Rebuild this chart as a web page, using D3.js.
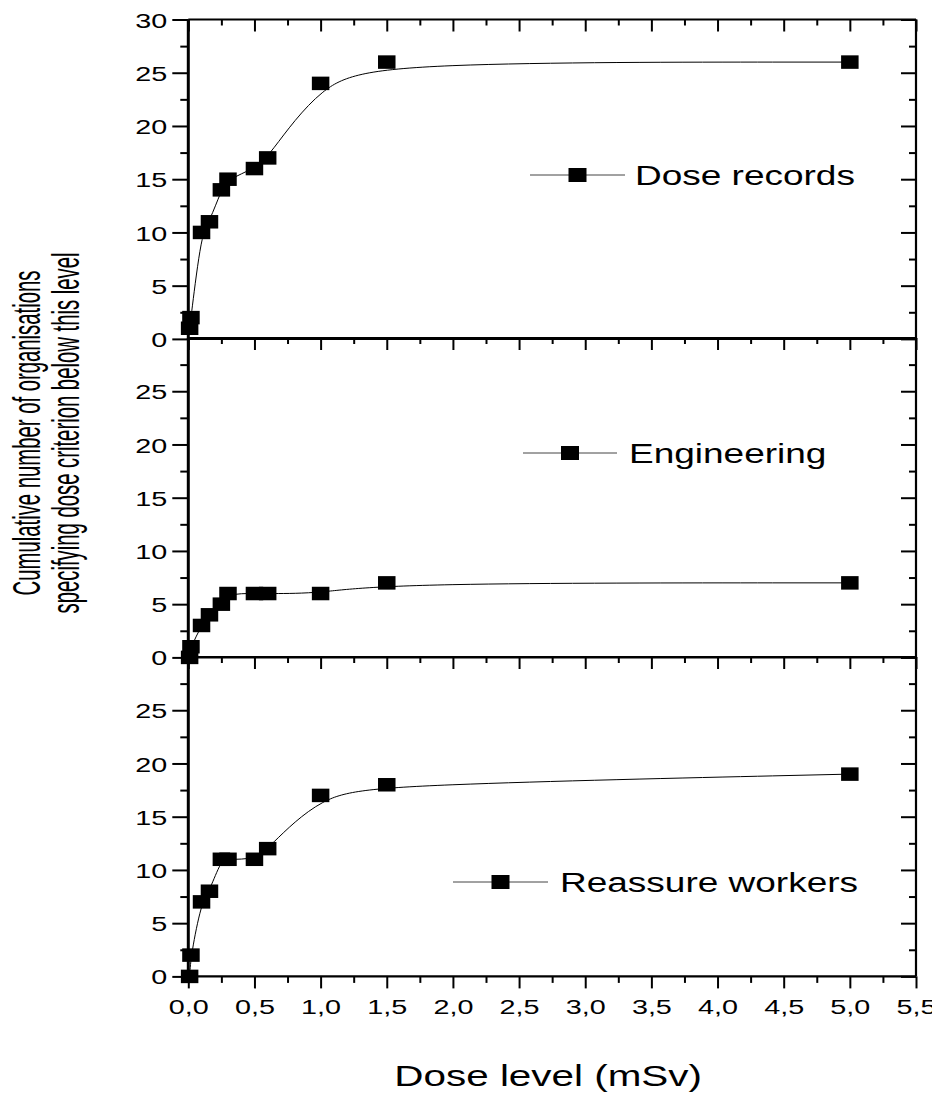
<!DOCTYPE html>
<html>
<head>
<meta charset="utf-8">
<script src="https://cdn.jsdelivr.net/npm/d3@7/dist/d3.min.js"></script>
<style>
  html, body { margin: 0; padding: 0; background: #fff; }
  svg { display: block; }
  text { font-family: "Liberation Sans", Arial, sans-serif; fill: #000; }
</style>
</head>
<body>
<svg id="chart" width="932" height="1096"></svg>
<script>
// Dose levels (mSv) at which cumulative counts were taken
const doseLevels = [0.01, 0.02, 0.1, 0.16, 0.25, 0.3, 0.5, 0.6, 1.0, 1.5, 5.0];

// Cumulative number of organisations per purpose
const doseRecords     = [1, 2, 10, 11, 14, 15, 16, 17, 24, 26, 26];
const engineering     = [0, 1, 3, 4, 5, 6, 6, 6, 6, 7, 7];
const reassureWorkers = [0, 2, 7, 8, 11, 11, 11, 12, 17, 18, 19];

const seriesNames = ["Dose records", "Engineering", "Reassure workers"];

// Axis ticks
const xTickValues = [0, 0.5, 1.0, 1.5, 2.0, 2.5, 3.0, 3.5, 4.0, 4.5, 5.0, 5.5];
const xTickLabels = ["0,0", "0,5", "1,0", "1,5", "2,0", "2,5", "3,0", "3,5", "4,0", "4,5", "5,0", "5,5"];
const xMinorTicks = [0.25, 0.75, 1.25, 1.75, 2.25, 2.75, 3.25, 3.75, 4.25, 4.75, 5.25];
const yTickValuesTop = [0, 5, 10, 15, 20, 25, 30];
const yTickValuesLower = [0, 5, 10, 15, 20, 25];
const yMinorTicks = [2.5, 7.5, 12.5, 17.5, 22.5, 27.5];

const xTitle = "Dose level (mSv)";
const yTitleLines = ["Cumulative number of organisations", "specifying dose criterion below this level"];

// Horizontal glyph stretch used for the lettering
const SX = 1.37;
// The rotated y title uses a taller, condensed look
const SX_TITLE = 1.95;

const svg = d3.select("#chart");

const left = 188.3, right = 916;
const panelTops = [19.5, 338, 657];
const panelH = 319.4;

const x = d3.scaleLinear().domain([0, 5.5]).range([left, right]);

const panels = [
  { name: seriesNames[0], values: doseRecords, yTicks: yTickValuesTop,
    legend: { x1: 530, x2: 625, y: 175, tx: 635 } },
  { name: seriesNames[1], values: engineering, yTicks: yTickValuesLower,
    legend: { x1: 523, x2: 617, y: 453, tx: 629 } },
  { name: seriesNames[2], values: reassureWorkers, yTicks: yTickValuesLower,
    legend: { x1: 453, x2: 548, y: 882, tx: 560 } }
];

function styleAxis(g, width) {
  g.select(".domain").remove();
  g.selectAll(".tick line").attr("stroke", "#000").attr("stroke-width", width);
}

panels.forEach((p, i) => {
  const top = panelTops[i];
  const bottom = top + panelH;
  const y = d3.scaleLinear().domain([0, 30]).range([bottom, top]);
  const g = svg.append("g");

  // Left axis: outward ticks with labels
  const gl = g.append("g").attr("transform", `translate(${left},0)`)
    .call(d3.axisLeft(y).tickValues(p.yTicks).tickSize(16).tickFormat(d3.format("d")));
  styleAxis(gl, 2);
  gl.selectAll(".tick text")
    .attr("font-size", 21)
    .attr("x", -21 / SX)
    .attr("dy", "0.36em")
    .attr("transform", `scale(${SX},1)`);
  const glm = g.append("g").attr("transform", `translate(${left},0)`)
    .call(d3.axisLeft(y).tickValues(yMinorTicks).tickSize(8).tickFormat(""));
  styleAxis(glm, 2);

  // Right axis: inward ticks
  const gr = g.append("g").attr("transform", `translate(${right},0)`)
    .call(d3.axisRight(y).tickValues(yTickValuesTop).tickSize(-15).tickFormat(""));
  styleAxis(gr, 2);
  const grm = g.append("g").attr("transform", `translate(${right},0)`)
    .call(d3.axisRight(y).tickValues(yMinorTicks).tickSize(-7).tickFormat(""));
  styleAxis(grm, 2);

  // Top axis: inward ticks
  const gt = g.append("g").attr("transform", `translate(0,${top})`)
    .call(d3.axisTop(x).tickValues(xTickValues).tickSize(-12).tickFormat(""));
  styleAxis(gt, 2);
  const gtm = g.append("g").attr("transform", `translate(0,${top})`)
    .call(d3.axisTop(x).tickValues(xMinorTicks).tickSize(-6).tickFormat(""));
  styleAxis(gtm, 2);

  // Bottom axis with labels on the lowest panel only
  if (i === panels.length - 1) {
    const gb = g.append("g").attr("transform", `translate(0,${bottom})`)
      .call(d3.axisBottom(x).tickValues(xTickValues).tickSize(12)
        .tickFormat((d, k) => xTickLabels[k]));
    styleAxis(gb, 2);
    gb.selectAll(".tick text")
      .attr("font-size", 21)
      .attr("y", 23)
      .attr("dy", "0.71em")
      .attr("transform", `scale(${SX},1)`)
      .attr("x", 0);
    const gbm = g.append("g").attr("transform", `translate(0,${bottom})`)
      .call(d3.axisBottom(x).tickValues(xMinorTicks).tickSize(6.5).tickFormat(""));
    styleAxis(gbm, 2);
  }

  // Panel frame
  g.append("line").attr("x1", left).attr("x2", right).attr("y1", top).attr("y2", top)
    .attr("stroke", "#000").attr("stroke-width", 2.2);
  g.append("line").attr("x1", left).attr("x2", right).attr("y1", bottom).attr("y2", bottom)
    .attr("stroke", "#000").attr("stroke-width", 2.2);
  g.append("line").attr("x1", right).attr("x2", right).attr("y1", top).attr("y2", bottom)
    .attr("stroke", "#000").attr("stroke-width", 2.2);
  g.append("line").attr("x1", left).attr("x2", left).attr("y1", top).attr("y2", bottom)
    .attr("stroke", "#000").attr("stroke-width", 3);

  // Smoothed connecting curve
  const pts = doseLevels.map((d, k) => [d, p.values[k]]);
  const line = d3.line().x(d => x(d[0])).y(d => y(d[1])).curve(d3.curveBasis);
  g.append("path").attr("d", line(pts))
    .attr("fill", "none").attr("stroke", "#000").attr("stroke-width", 1);

  // Square markers
  const mw = 17.5, mh = 13.5;
  g.selectAll("rect.pt").data(pts).join("rect").attr("class", "pt")
    .attr("x", d => x(d[0]) - mw / 2).attr("y", d => y(d[1]) - mh / 2)
    .attr("width", mw).attr("height", mh).attr("fill", "#000");

  // Legend
  const L = p.legend;
  const lg = g.append("g");
  lg.append("line").attr("x1", L.x1).attr("x2", L.x2).attr("y1", L.y).attr("y2", L.y)
    .attr("stroke", "#444").attr("stroke-width", 1);
  const cx = (L.x1 + L.x2) / 2;
  lg.append("rect").attr("x", cx - 9).attr("y", L.y - 7)
    .attr("width", 18).attr("height", 14).attr("fill", "#000");
  lg.append("text")
    .attr("transform", `translate(${L.tx},${L.y + 10}) scale(${SX},1)`)
    .attr("font-size", 27)
    .text(p.name);
});

// Axis titles
svg.append("text")
  .attr("transform", `translate(${(left + right) / 2 - 4},1086) scale(${SX},1)`)
  .attr("text-anchor", "middle")
  .attr("font-size", 29.5)
  .text(xTitle);

yTitleLines.forEach((t, k) => {
  svg.append("text")
    .attr("transform", `translate(${40 + k * 39},433) scale(${SX_TITLE},1) rotate(-90)`)
    .attr("text-anchor", "middle")
    .attr("font-size", 20.3)
    .text(t);
});
</script>
</body>
</html>
